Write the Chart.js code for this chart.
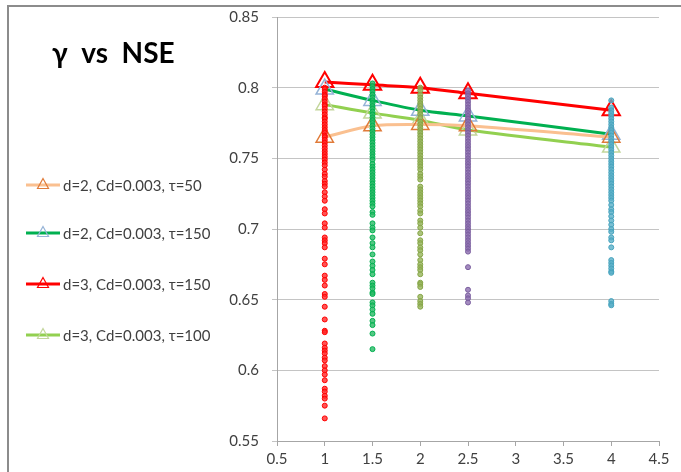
<!DOCTYPE html>
<html>
<head>
<meta charset="utf-8">
<script src="https://cdn.jsdelivr.net/npm/chart.js@4/dist/chart.umd.min.js"></script>
<style>
  html, body { margin: 0; padding: 0; background: #fff; overflow: hidden; }
  #wrap { position: relative; width: 681px; height: 472px; }
  #frame {
    position: absolute; left: 7px; top: 5px; width: 700px; height: 500px;
    border: 2px solid #8c8c8c; box-sizing: border-box;
  }
  #chart { position: absolute; left: 0; top: 0; }
  .title {
    position: absolute; left: 52px; top: 35px;
    font: bold 28px Lato, "Liberation Sans", sans-serif; color: #000;
    white-space: pre;
  }
  .legend-item {
    position: absolute; left: 26px; height: 20px;
    display: flex; align-items: center;
    font: 15px Lato, "Liberation Sans", sans-serif; color: #404040;
  }
  .legend-item svg { margin-right: 3px; }
</style>
</head>
<body>
<div id="wrap">
  <div id="frame"></div>
  <canvas id="chart" width="681" height="472"></canvas>
  <div class="title">γ  vs  NSE</div>
  <div id="legend"></div>
</div>
<script>
// gamma values of the columns
const gammaPts = [1, 1.5, 2, 2.5, 4];

// NSE of all runs per gamma (scatter columns)
const nseG1 = [0.800, 0.799, 0.797, 0.795, 0.794, 0.792, 0.790, 0.788, 0.787, 0.785,
  0.783, 0.781, 0.779, 0.778, 0.776, 0.774, 0.772, 0.770, 0.768, 0.766, 0.765, 0.763,
  0.761, 0.759, 0.757, 0.755, 0.753, 0.751, 0.749, 0.747, 0.745, 0.742, 0.739, 0.737,
  0.734, 0.732, 0.730, 0.726, 0.723, 0.720, 0.714, 0.711, 0.704, 0.701, 0.694, 0.692,
  0.690, 0.687, 0.679, 0.675, 0.667, 0.664, 0.660, 0.654, 0.652, 0.645, 0.636, 0.628,
  0.627, 0.619, 0.616, 0.614, 0.612, 0.609, 0.607, 0.603, 0.600, 0.597, 0.593, 0.587,
  0.585, 0.582, 0.580, 0.575, 0.566];
const nseG15 = [0.803, 0.801, 0.799, 0.797, 0.795, 0.793, 0.791, 0.789, 0.787, 0.785,
  0.783, 0.781, 0.779, 0.777, 0.775, 0.773, 0.771, 0.769, 0.767, 0.765, 0.763, 0.761,
  0.759, 0.757, 0.755, 0.753, 0.751, 0.749, 0.746, 0.744, 0.742, 0.740, 0.738, 0.736,
  0.734, 0.732, 0.730, 0.728, 0.726, 0.724, 0.722, 0.720, 0.718, 0.716, 0.712, 0.710,
  0.704, 0.701, 0.699, 0.694, 0.690, 0.687, 0.682, 0.677, 0.674, 0.671, 0.668, 0.662,
  0.660, 0.658, 0.655, 0.654, 0.648, 0.646, 0.643, 0.640, 0.635, 0.632, 0.626, 0.615];
const nseG2 = [0.800, 0.798, 0.795, 0.793, 0.791, 0.789, 0.787, 0.785, 0.783, 0.781,
  0.779, 0.776, 0.774, 0.772, 0.770, 0.768, 0.766, 0.764, 0.762, 0.760, 0.758, 0.756,
  0.754, 0.752, 0.750, 0.748, 0.746, 0.744, 0.742, 0.739, 0.737, 0.735, 0.730, 0.728,
  0.726, 0.724, 0.722, 0.720, 0.718, 0.716, 0.713, 0.711, 0.706, 0.704, 0.701, 0.697,
  0.692, 0.690, 0.687, 0.685, 0.682, 0.678, 0.675, 0.673, 0.671, 0.668, 0.662, 0.661,
  0.659, 0.652, 0.649, 0.647, 0.645];
const nseG25 = [0.798, 0.796, 0.794, 0.792, 0.790, 0.788, 0.786, 0.784, 0.782, 0.780,
  0.778, 0.776, 0.774, 0.772, 0.770, 0.768, 0.766, 0.764, 0.762, 0.760, 0.758, 0.756,
  0.754, 0.752, 0.750, 0.748, 0.746, 0.744, 0.742, 0.740, 0.738, 0.736, 0.734, 0.732,
  0.730, 0.728, 0.726, 0.724, 0.722, 0.720, 0.718, 0.716, 0.714, 0.712, 0.710, 0.708,
  0.706, 0.704, 0.702, 0.700, 0.698, 0.696, 0.694, 0.692, 0.690, 0.688, 0.686, 0.684,
  0.673, 0.657, 0.653, 0.651, 0.648];
const nseG4 = [0.791, 0.786, 0.784, 0.782, 0.780, 0.778, 0.776, 0.774, 0.772, 0.770,
  0.768, 0.766, 0.764, 0.762, 0.760, 0.758, 0.756, 0.754, 0.752, 0.750, 0.748, 0.746,
  0.744, 0.742, 0.740, 0.738, 0.736, 0.734, 0.732, 0.730, 0.728, 0.726, 0.724, 0.722,
  0.720, 0.717, 0.714, 0.712, 0.709, 0.706, 0.703, 0.700, 0.698, 0.694, 0.692, 0.687,
  0.678, 0.676, 0.674, 0.672, 0.670, 0.669, 0.649, 0.647, 0.646];

// best-run curves
const d2Tau50 = [0.765, 0.773, 0.774, 0.773, 0.765];
const d2Tau150 = [0.799, 0.791, 0.784, 0.780, 0.767];
const d3Tau150 = [0.804, 0.802, 0.800, 0.796, 0.784];
const d3Tau100 = [0.788, 0.782, 0.777, 0.770, 0.758];

const xTicks = [0.5, 1, 1.5, 2, 2.5, 3, 3.5, 4, 4.5];
const yTicks = [0.55, 0.6, 0.65, 0.7, 0.75, 0.8, 0.85];

const columns = [
  { vals: nseG1, x: 1, color: '#FF0000', fill: 'rgba(255,40,40,0.8)' },
  { vals: nseG15, x: 1.5, color: '#00B050', fill: 'rgba(40,185,100,0.8)' },
  { vals: nseG2, x: 2, color: '#86A547', fill: 'rgba(150,180,90,0.8)' },
  { vals: nseG25, x: 2.5, color: '#7A5E9E', fill: 'rgba(140,110,175,0.8)' },
  { vals: nseG4, x: 4, color: '#46A3BD', fill: 'rgba(90,175,200,0.8)' }
];

const curves = [
  { label: 'd=2, Cd=0.003, τ=50', vals: d2Tau50, line: '#FAC090', mark: '#E07B39', mw: 1.5 },
  { label: 'd=2, Cd=0.003, τ=150', vals: d2Tau150, line: '#00B050', mark: '#95B3D7', mw: 1.5 },
  { label: 'd=3, Cd=0.003, τ=150', vals: d3Tau150, line: '#FF0000', mark: '#FF0000', mw: 2 },
  { label: 'd=3, Cd=0.003, τ=100', vals: d3Tau100, line: '#92D050', mark: '#C3D69B', mw: 1.5 }
];

const scatterSets = columns.map(c => ({
  data: c.vals.map(v => ({ x: c.x, y: v })),
  showLine: false,
  pointStyle: 'circle',
  pointRadius: 2.5,
  pointBorderWidth: 1,
  pointBorderColor: c.color,
  pointBackgroundColor: c.fill
}));

const lineSets = curves.map(c => ({
  data: c.vals.map((v, i) => ({ x: gammaPts[i], y: v })),
  showLine: true,
  tension: 0.3,
  borderColor: c.line,
  borderWidth: 3,
  pointStyle: 'triangle',
  pointRadius: 10,
  pointBorderWidth: c.mw,
  pointBorderColor: c.mark,
  pointBackgroundColor: 'rgba(255,255,255,0)'
}));

const fmt = v => Number(Number(v).toFixed(2)).toString();

Chart.defaults.font.family = 'Lato, "Liberation Sans", sans-serif';
Chart.defaults.font.size = 15;
Chart.defaults.color = '#404040';

new Chart(document.getElementById('chart'), {
  type: 'scatter',
  data: { datasets: [...scatterSets, ...lineSets] },
  options: {
    responsive: false,
    animation: false,
    layout: { padding: { top: 17, right: 22, left: 0, bottom: 0 } },
    plugins: { legend: { display: false }, tooltip: { enabled: false } },
    scales: {
      x: {
        type: 'linear',
        min: xTicks[0],
        max: xTicks[xTicks.length - 1],
        afterBuildTicks: s => { s.ticks = xTicks.map(v => ({ value: v })); },
        afterFit: s => { s.height = 31; },
        ticks: { callback: fmt, padding: 4, maxRotation: 0 },
        grid: { drawOnChartArea: false, drawTicks: true, tickLength: 5, color: '#A6A6A6' },
        border: { color: '#A6A6A6' }
      },
      y: {
        type: 'linear',
        min: yTicks[0],
        max: yTicks[yTicks.length - 1],
        afterBuildTicks: s => { s.ticks = yTicks.map(v => ({ value: v })); },
        afterFit: s => { s.width = 277; s.paddingTop = 8; s.paddingBottom = 8; },
        ticks: { callback: fmt, padding: 13 },
        grid: { color: '#C4C4C4', tickLength: 5 },
        border: { color: '#A6A6A6' }
      }
    }
  }
});

// legend on the left
const legendTops = [175, 223, 274, 325];
const legend = document.getElementById('legend');
curves.forEach((c, i) => {
  const item = document.createElement('div');
  item.className = 'legend-item';
  item.style.top = legendTops[i] + 'px';
  item.innerHTML =
    '<svg width="34" height="20">' +
    '<line x1="0" y1="10" x2="34" y2="10" stroke="' + c.line + '" stroke-width="3"/>' +
    '<polygon points="17,3.5 22.5,13.5 11.5,13.5" fill="none" stroke="' + c.mark + '" stroke-width="1.2"/>' +
    '</svg><span>' + c.label + '</span>';
  legend.appendChild(item);
});
</script>
</body>
</html>
